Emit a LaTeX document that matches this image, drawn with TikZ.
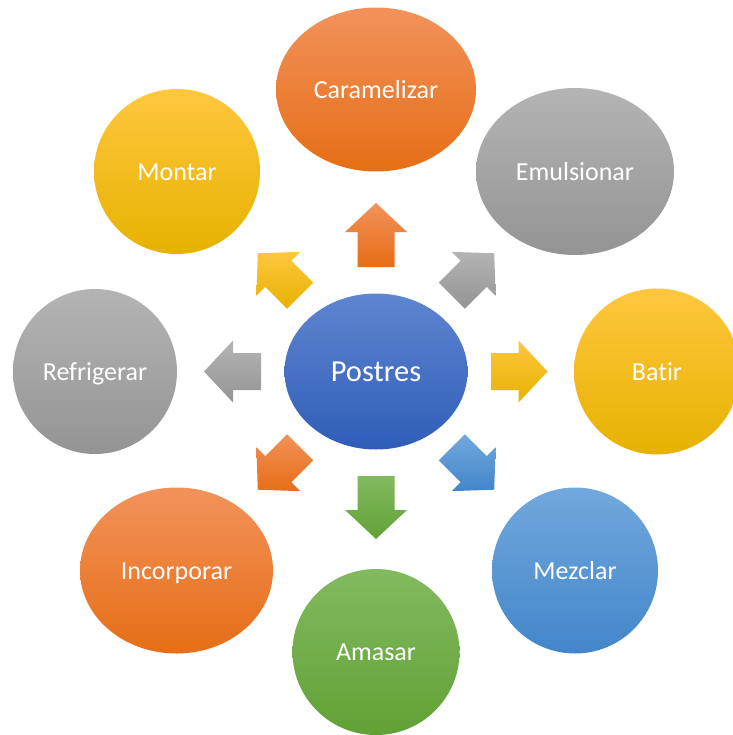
\documentclass[tikz,border=0pt]{standalone}
\usepackage{fontspec}
\setmainfont{Carlito}[RawFeature={-liga;-clig;-dlig}]
\usetikzlibrary{shapes.geometric}
\definecolor{orT}{RGB}{242,146,90}
\definecolor{orM}{RGB}{242,126,44}
\definecolor{orB}{RGB}{230,110,22}
\definecolor{grT}{RGB}{180,180,180}
\definecolor{grM}{RGB}{166,166,166}
\definecolor{grB}{RGB}{148,148,148}
\definecolor{yeT}{RGB}{255,199,62}
\definecolor{yeM}{RGB}{255,192,0}
\definecolor{yeB}{RGB}{230,178,0}
\definecolor{blT}{RGB}{114,168,220}
\definecolor{blM}{RGB}{91,155,213}
\definecolor{blB}{RGB}{66,134,202}
\definecolor{gnT}{RGB}{131,186,96}
\definecolor{gnM}{RGB}{112,173,71}
\definecolor{gnB}{RGB}{97,161,53}
\definecolor{dbT}{RGB}{94,133,208}
\definecolor{dbM}{RGB}{68,114,196}
\definecolor{dbB}{RGB}{47,93,183}
\tikzset{
  bubble/.style={ellipse, inner sep=0pt, text=white, font=\fontsize{26}{30}\selectfont,
    text height=22pt, text depth=4.4pt},
  orangefill/.style={top color=orT, middle color=orM, bottom color=orB},
  grayfill/.style={top color=grT, middle color=grM, bottom color=grB},
  yellowfill/.style={top color=yeT, middle color=yeM, bottom color=yeB},
  bluefill/.style={top color=blT, middle color=blM, bottom color=blB},
  greenfill/.style={top color=gnT, middle color=gnM, bottom color=gnB},
  darkbluefill/.style={top color=dbT, middle color=dbM, bottom color=dbB},
}
\newcommand\blockarrow[5]{%
  \shade[#5, shift={(#1,#2)}, rotate=#3]
    ({-#4/2},-18.5) -- ({#4/2-29},-18.5) -- ({#4/2-29},-31) -- ({#4/2},0) --
    ({#4/2-29},31) -- ({#4/2-29},18.5) -- ({-#4/2},18.5) -- cycle;}
\begin{document}
\begin{tikzpicture}[x=1pt,y=-1pt]
\useasboundingbox (0,0) rectangle (732,735);
% outer bubbles
\node[bubble, orangefill, minimum width=200pt, minimum height=164pt] (caramelizar) at (376,89.5) {Caramelizar};
\node[bubble, grayfill, minimum width=198pt, minimum height=167pt] (emulsionar) at (575,171.5) {Emulsionar};
\node[bubble, yellowfill, minimum width=166pt, minimum height=166pt] (batir) at (657,371.5) {Batir};
\node[bubble, bluefill, minimum width=166pt, minimum height=166pt] (mezclar) at (575,570.5) {Mezclar};
\node[bubble, greenfill, minimum width=167pt, minimum height=166pt] (amasar) at (376,652) {Amasar};
\node[bubble, orangefill, minimum width=193pt, minimum height=166pt] (incorporar) at (176.5,570.5) {Incorporar};
\node[bubble, grayfill, minimum width=164pt, minimum height=165pt] (refrigerar) at (95,371.5) {Refrigerar};
\node[bubble, yellowfill, minimum width=166pt, minimum height=165pt] (montar) at (177,171.5) {Montar};
% centre
\node[bubble, darkbluefill, minimum width=183pt, minimum height=156pt,
  font=\fontsize{30.5}{34}\selectfont, text height=25pt, text depth=4.6pt] (postres) at (376,371.5) {Postres};
% block arrows
\blockarrow{376}{235}{90}{64}{orangefill}
\blockarrow{473}{274.5}{45}{60}{grayfill}
\blockarrow{519.5}{371.5}{0}{56}{yellowfill}
\blockarrow{473}{468.5}{-45}{60}{bluefill}
\blockarrow{376}{507.5}{-90}{63}{greenfill}
\blockarrow{279}{468.5}{-135}{60}{orangefill}
\blockarrow{232.5}{371.5}{180}{57}{grayfill}
\blockarrow{279}{274.5}{135}{60}{yellowfill}
\end{tikzpicture}
\end{document}
